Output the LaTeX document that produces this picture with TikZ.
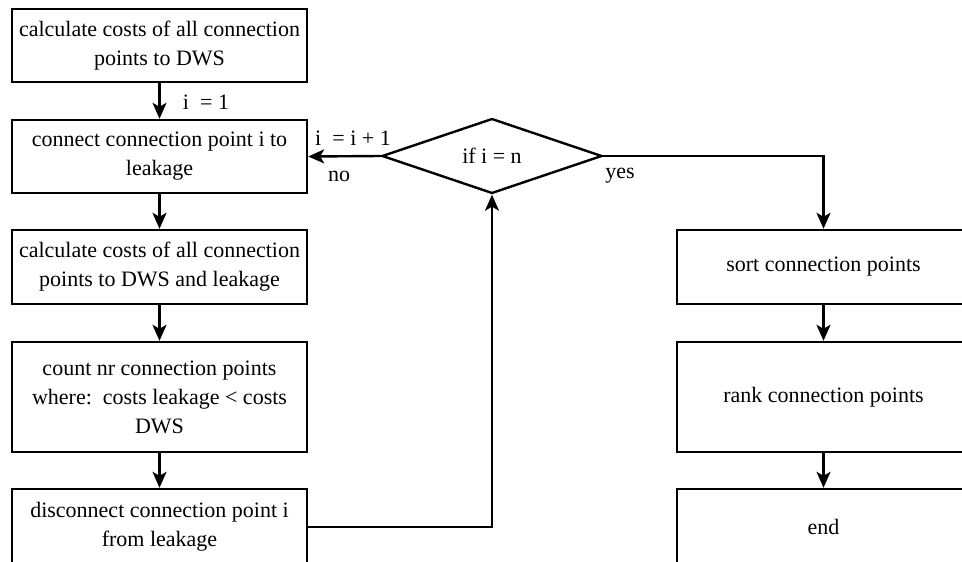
\documentclass[tikz,border=0pt]{standalone}
\usepackage{fontspec}
\setmainfont{Liberation Serif}
\usetikzlibrary{arrows.meta,shapes.geometric}
\begin{document}
\begin{tikzpicture}[x=1pt,y=-1pt,
  txt/.style={font=\rmfamily\fontsize{22}{29}\selectfont},
  box/.style={txt,draw,line width=2.4pt,minimum width=295pt,align=center,inner sep=0pt},
  rbox/.style={box,minimum width=293pt},
  dec/.style={txt,draw,diamond,line width=2.4pt,minimum width=220pt,minimum height=74pt,inner sep=0pt},
  lbl/.style={txt,inner sep=0pt},
  conn/.style={line width=2.4pt,-{Stealth[length=16pt,width=14pt,inset=4pt]}}]
\useasboundingbox[clip] (0,0) rectangle (962,562);
\node[box,minimum height=73pt] (b1) at (159.5,45.5) {calculate costs of all connection\\points to DWS};
\node[box,minimum height=73pt] (b2) at (159.5,156.5) {connect connection point i to\\leakage};
\node[box,minimum height=74pt] (b3) at (159.5,267) {calculate costs of all connection\\points to DWS and leakage};
\node[box,minimum height=110pt] (b4) at (159.5,397) {count nr connection points\\where:\ \ costs leakage < costs\\DWS};
\node[box,minimum height=76pt] (b5) at (159.5,527) {disconnect connection point i\\from leakage};
\node[dec] (d) at (492,156) {if i = n};
\node[rbox,minimum height=74pt] (s1) at (823.5,267) {sort connection points};
\node[rbox,minimum height=110pt] (s2) at (823.5,397) {rank connection points};
\node[rbox,minimum height=76pt] (s3) at (823.5,527) {end};
\draw[conn] (b1) -- (b2);
\draw[conn] (b2) -- (b3);
\draw[conn] (b3) -- (b4);
\draw[conn] (b4) -- (b5);
\draw[conn] (d.west) -- (b2.east);
\draw[conn] (b5.east) -| (d.south);
\draw[conn] (d.east) -| (s1.north);
\draw[conn] (s1) -- (s2);
\draw[conn] (s2) -- (s3);
\node[lbl] (l1) at (206,102) {i\ \ = 1};
\node[lbl] (l2) at (353,138) {i\ \ = i + 1};
\node[lbl] (l3) at (339,176) {no};
\node[lbl] (l4) at (620,176) {yes};
\end{tikzpicture}
\end{document}
